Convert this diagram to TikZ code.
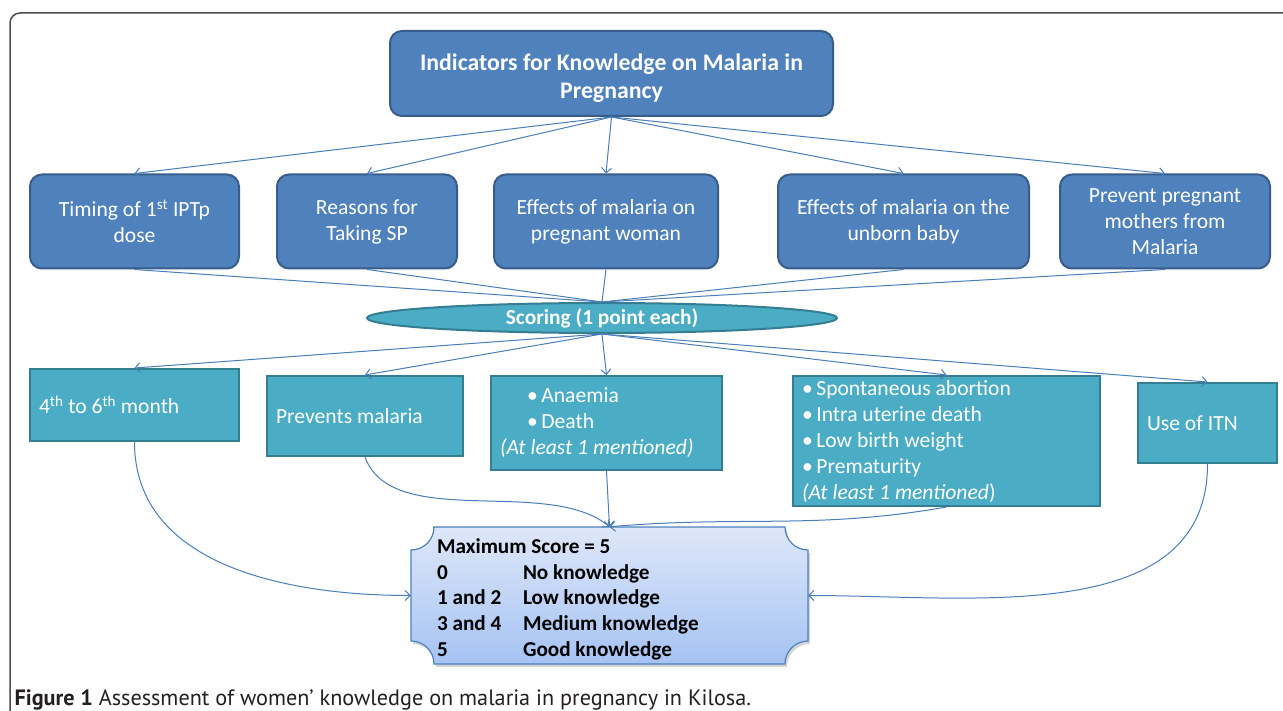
\documentclass[tikz,border=0pt]{standalone}
\usepackage{fontspec}
\setmainfont{Carlito}
\newfontfamily\captionfont{PT Sans}
\usepackage{tikz}
\usetikzlibrary{arrows.meta, positioning, shapes.geometric, backgrounds, shadows}

\definecolor{indblue}{HTML}{4F81BD}
\definecolor{indborder}{HTML}{385D8A}
\definecolor{scorefill}{HTML}{4BACC6}
\definecolor{scoreborder}{HTML}{357D91}
\definecolor{linkblue}{HTML}{4A7EBB}
\definecolor{maxtop}{HTML}{DEE7F9}
\definecolor{maxbottom}{HTML}{A5C3F3}
\definecolor{captiongray}{HTML}{231F20}

\begin{document}
\begin{tikzpicture}[
    x=1pt, y=1pt,
    node distance=36pt,
    every node/.style={
        align=center,
        font=\fontsize{21.6}{26}\selectfont
    },
    indicator/.style={draw=indborder, line width=2pt, fill=indblue, text=white,
        rounded corners=12pt, inner sep=0pt, minimum height=94pt},
    answer/.style={draw=scoreborder, line width=2pt, fill=scorefill, text=white,
        inner xsep=9pt, inner ysep=0pt, align=flush left},
    arrow/.style={-{Straight Barb[length=5pt, width=10pt]}, linkblue, line width=1pt},
    link/.style={linkblue, line width=1pt}
]
\useasboundingbox (0,-711) rectangle (1283,0);

% === Frame ===
\draw[black!70, line width=1.5pt, rounded corners=10pt] (10,-760) |- (1330,-13);

% === Top Box ===
\node[indicator, minimum width=443pt, minimum height=85pt,
      font=\fontsize{23.8}{28}\selectfont\bfseries] (indicators) at (611.5,-73.5)
    {\rule{0pt}{26pt}Indicators for Knowledge on Malaria in\\Pregnancy};

% === Indicator Row ===
\node[indicator, minimum width=209pt] (timing) at (134.5,-221.5) {Timing of 1\textsuperscript{st} IPTp\\dose};
\node[indicator, minimum width=180pt, right=36pt of timing] (reasons) {Reasons for\\Taking SP};
\node[indicator, minimum width=224pt, right=35pt of reasons] (effwoman) {Effects of malaria on\\pregnant woman};
\node[indicator, minimum width=251pt, right=58pt of effwoman] (effbaby) {Effects of malaria on the\\unborn baby};
\node[indicator, minimum width=210pt, right=29pt of effbaby] (prevent) {Prevent pregnant\\mothers from\\Malaria};

% === Scoring ===
\node[ellipse, draw=scoreborder, line width=2pt, fill=scorefill, text=white, inner sep=0pt,
      minimum width=470pt, minimum height=30pt,
      font=\fontsize{21.4}{22}\selectfont\bfseries] (scoring) at (602,-318) {Scoring (1 point each)};

% === Answer Row ===
\node[answer, text width=191pt, minimum height=72pt] (month) at (134.5,-405)
    {4\textsuperscript{th} to 6\textsuperscript{th} month};
\node[answer, text width=178pt, minimum height=80pt] (prevents) at (365,-416) {Prevents malaria};
\node[answer, text width=213pt, minimum height=94pt] (womanans) at (606.5,-423)
    {\hspace*{27pt}•\,Anaemia\\\hspace*{27pt}•\,Death\\\textit{(At least 1 mentioned)}};
\node[answer, text width=289pt, minimum height=130pt] (babyans) at (946.5,-441)
    {•\,Spontaneous abortion\\•\,Intra uterine death\\•\,Low birth weight\\•\,Prematurity\\\textit{(At least 1 mentioned})};
\node[answer, text width=121pt, minimum height=80pt] (itn) at (1207.5,-423) {Use of ITN};

% === Maximum Score ===
\node[text width=345pt, inner xsep=26pt, inner ysep=0pt, minimum height=137pt, align=flush left,
      font=\fontsize{21.2}{25.7}\selectfont\bfseries] (maxbox) at (609.5,-595.5)
    {\rule{0pt}{22pt}Maximum Score = 5\\
     \makebox[86pt][l]{0}No knowledge\\
     \makebox[86pt][l]{1 and 2}Low knowledge\\
     \makebox[86pt][l]{3 and 4}Medium knowledge\\
     \makebox[86pt][l]{5}Good knowledge};
\begin{scope}[on background layer]
\path[draw=indblue, line width=1.2pt, top color=maxtop, bottom color=maxbottom,
      drop shadow={opacity=0.35, shadow xshift=2pt, shadow yshift=-3pt}]
    (433,-527) -- (785,-527) arc[start angle=180, end angle=270, radius=23]
    -- (808,-641) arc[start angle=90, end angle=180, radius=23]
    -- (434,-664) arc[start angle=0, end angle=90, radius=23]
    -- (411,-550) arc[start angle=270, end angle=360, radius=23] -- cycle;
\end{scope}

% ============ ARROWS ============

% Indicators to topics
\foreach \topic in {timing, reasons, effwoman, effbaby, prevent}
    \draw[arrow] (indicators.south) -- (\topic.north);

% Topics to scoring
\foreach \topic in {timing, reasons, effwoman, effbaby, prevent}
    \draw[link] (\topic.south) -- (scoring.north);

% Scoring to answers
\foreach \ans in {month, prevents, womanans, babyans, itn}
    \draw[arrow] (scoring.south) -- (\ans.north);

% Answers to maximum score
\draw[arrow] (month.south) to[out=-90, in=180] (maxbox.west);
\draw[arrow] (prevents.south) to[out=-70, in=140, looseness=0.8] (maxbox.north);
\draw[arrow] (womanans.south) -- (maxbox.north);
\draw[arrow] (babyans.south) to[out=190, in=5] (maxbox.north);
\draw[arrow] (itn.south) to[out=-90, in=0] (maxbox.east);

% Caption
\node[anchor=west, text=captiongray, font=\captionfont\fontsize{22.2}{26}\selectfont] (caption) at (11,-700)
    {\textbf{Figure 1} Assessment of women’ knowledge on malaria in pregnancy in Kilosa.};

\end{tikzpicture}
\end{document}
